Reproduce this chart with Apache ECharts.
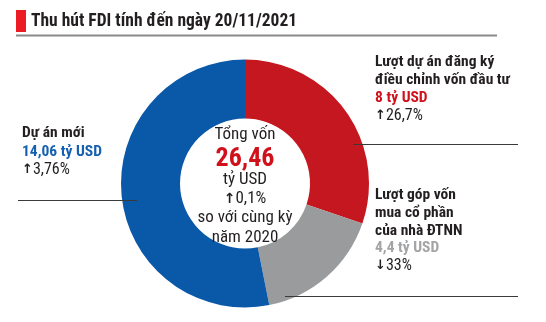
<!DOCTYPE html>
<html>
<head>
<meta charset="utf-8">
<script src="https://cdn.jsdelivr.net/npm/echarts@6/dist/echarts.min.js"></script>
<style>
  html, body { margin: 0; padding: 0; background: #ffffff; }
  #chart { width: 546px; height: 322px; }
</style>
</head>
<body>
<div id="chart"></div>
<script>
// FDI inflow breakdown (billion USD), clockwise from 12 o'clock
const categories = ['Lượt dự án đăng ký điều chỉnh vốn đầu tư', 'Lượt góp vốn mua cổ phần của nhà ĐTNN', 'Dự án mới'];
const values = [8, 4.4, 14.06];
const valueLabels = ['8 tỷ USD', '4,4 tỷ USD', '14,06 tỷ USD'];
const changeArrows = ['↑', '↓', '↑'];
const changeLabels = ['26,7%', '33%', '3,76%'];
const totalLabel = '26,46';
const totalChange = ['↑', '0,1%'];
const colors = ['#c5171f', '#9a9b9d', '#0a58a8'];

const FONT = '"Roboto Condensed", Roboto, sans-serif';
const ARROW_FONT = '"DejaVu Sans", sans-serif';
const dark = '#231f20';

function txt(x, y, text, opt) {
  opt = opt || {};
  return {
    type: 'text', x: x, y: y, z: 20,
    style: {
      text: text,
      fill: opt.fill || dark,
      font: (opt.weight || 'normal') + ' ' + (opt.size || 15.5) + 'px ' + FONT,
      textAlign: opt.align || 'left',
      textVerticalAlign: 'middle'
    }
  };
}
// change figure with a heavy arrow glyph in front
function change(x, y, arrow, text, opt) {
  opt = opt || {};
  const size = opt.size || 16;
  return {
    type: 'text', x: x, y: y, z: 20,
    style: {
      text: '{a|' + arrow + '}{b|' + text + '}',
      textAlign: opt.align || 'left',
      textVerticalAlign: 'middle',
      rich: {
        a: { fill: dark, fontFamily: ARROW_FONT, fontWeight: 'bold', fontSize: size - 3 },
        b: { fill: dark, fontFamily: FONT, fontWeight: 'normal', fontSize: size }
      }
    }
  };
}
function hline(x1, x2, y, color, w) {
  return { type: 'line', z: 15, shape: { x1: x1, y1: y, x2: x2, y2: y },
           style: { stroke: color || '#3a3a3a', lineWidth: w || 1 } };
}

const chart = echarts.init(document.getElementById('chart'), null, { renderer: 'canvas' });

const graphics = [
  // heading
  { type: 'rect', shape: { x: 16, y: 10, width: 10, height: 22 }, style: { fill: '#ec1c24' } },
  txt(31, 22, 'Thu hút FDI tính đến ngày 20/11/2021', { weight: 'bold', size: 17.5 }),
  hline(16, 497, 35.5, '#8a8a8a', 2),

  // leader lines
  hline(18, 137, 200.5),
  hline(353, 518, 144.5),
  hline(285, 518, 296.5),

  // left: new projects
  txt(22, 133, 'Dự án mới', { weight: 'bold' }),
  txt(22, 152, valueLabels[2], { weight: 'bold', fill: '#1560b0' }),
  change(22, 170, changeArrows[2], changeLabels[2]),

  // right top: capital adjustments
  txt(375, 62, 'Lượt dự án đăng ký', { weight: 'bold' }),
  txt(375, 80, 'điều chỉnh vốn đầu tư', { weight: 'bold' }),
  txt(375, 98, valueLabels[0], { weight: 'bold', fill: '#d0111b' }),
  change(375, 116, changeArrows[0], changeLabels[0]),

  // right bottom: share purchases
  txt(375, 195, 'Lượt góp vốn', { weight: 'bold' }),
  txt(375, 213, 'mua cổ phần', { weight: 'bold' }),
  txt(375, 231, 'của nhà ĐTNN', { weight: 'bold' }),
  txt(375, 248, valueLabels[1], { weight: 'bold', fill: '#a3a4a6' }),
  change(375, 266, changeArrows[1], changeLabels[1]),

  // centre total
  txt(245, 135, 'Tổng vốn', { align: 'center', size: 17 }),
  txt(245, 159, totalLabel, { align: 'center', size: 26, weight: 'bold', fill: '#d0111b' }),
  txt(245, 180, 'tỷ USD', { align: 'center', size: 17 }),
  change(245, 199, totalChange[0], totalChange[1], { align: 'center', size: 17 }),
  txt(245, 218, 'so với cùng kỳ', { align: 'center', size: 17 }),
  txt(245, 238, 'năm 2020', { align: 'center', size: 17 })
];

chart.setOption({
  animation: false,
  graphic: graphics,
  series: [{
    type: 'pie',
    center: [245, 183.5],
    radius: [65, 124],
    startAngle: 90,
    clockwise: true,
    label: { show: false },
    labelLine: { show: false },
    emphasis: { disabled: true },
    itemStyle: { borderWidth: 0 },
    data: categories.map((c, i) => ({ name: c, value: values[i], itemStyle: { color: colors[i] } }))
  }]
});
</script>
</body>
</html>
